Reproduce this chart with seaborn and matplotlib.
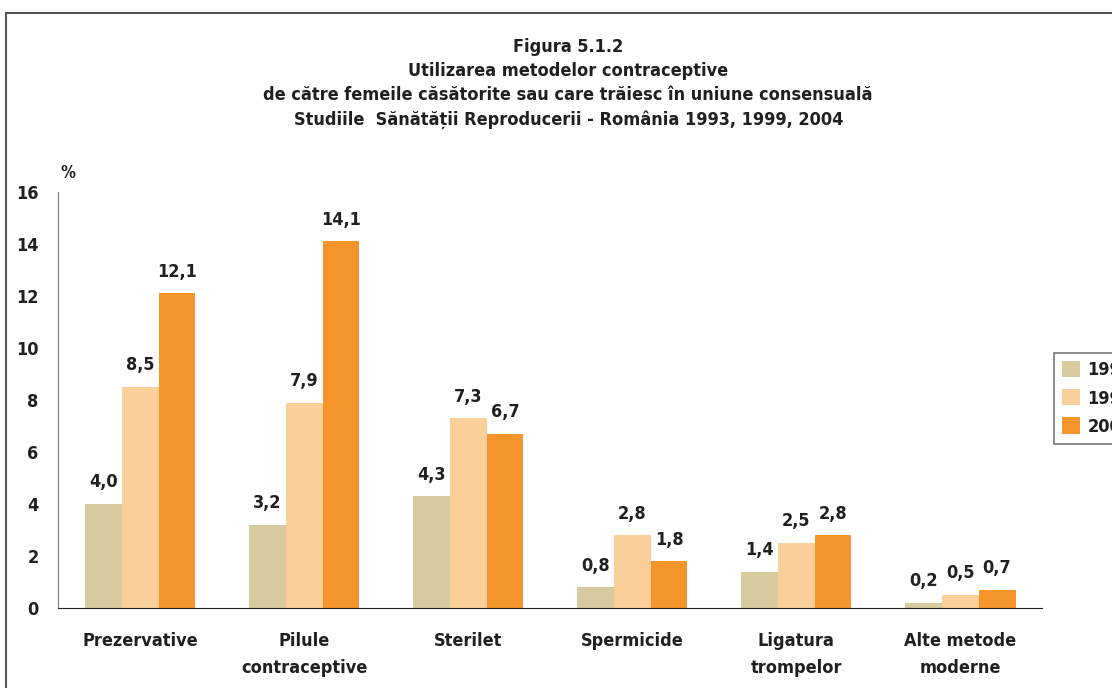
"""
Figura 5.1.2 - contraceptive method use, grouped bar chart.
"""

import matplotlib
matplotlib.use("Agg")
import matplotlib.pyplot as plt
import matplotlib.patches as mpatches
import pandas as pd
import seaborn as sns

categories = [
    "Prezervative",
    "Pilule\ncontraceptive",
    "Sterilet",
    "Spermicide",
    "Ligatura\ntrompelor",
    "Alte metode\nmoderne",
]
years = ["1993", "1999", "2004"]
values_1993 = [4.0, 3.2, 4.3, 0.8, 1.4, 0.2]
values_1999 = [8.5, 7.9, 7.3, 2.8, 2.5, 0.5]
values_2004 = [12.1, 14.1, 6.7, 1.8, 2.8, 0.7]
y_ticks = [0, 2, 4, 6, 8, 10, 12, 14, 16]

colors = ["#D6CA9E", "#FACF9A", "#F5942B"]
TEXT = "#231F20"


def main():
    sns.set_style("white")
    plt.rcParams["font.family"] = ["DejaVu Sans"]
    plt.rcParams["font.stretch"] = "condensed"
    plt.rcParams["font.weight"] = "bold"

    df = pd.DataFrame({
        "cat": categories * 3,
        "year": [y for y in years for _ in categories],
        "val": values_1993 + values_1999 + values_2004,
    })

    fig = plt.figure(figsize=(11.12, 6.88), dpi=100)
    ax = fig.add_axes([0.0522, 0.1163, 0.885, 0.6047])

    sns.barplot(data=df, x="cat", y="val", hue="year", palette=colors,
                width=0.675, gap=0, ax=ax, saturation=1, legend=True,
                linewidth=0)

    for cont in ax.containers:
        labels = [f"{b.get_height():.1f}".replace(".", ",") for b in cont]
        ax.bar_label(cont, labels=labels, padding=9, fontsize=13,
                     fontweight="bold", color=TEXT)

    ax.set_ylim(0, 16)
    ax.set_xlim(-0.5, len(categories) - 0.5)
    ax.set_yticks(y_ticks)
    ax.set_yticklabels([str(t) for t in y_ticks], fontsize=13,
                       fontweight="bold", color=TEXT)
    ax.set_xticks(range(len(categories)))
    ax.set_xticklabels(categories, fontsize=13, fontweight="bold",
                       color=TEXT, linespacing=1.7)
    ax.tick_params(axis="x", length=0, pad=17)
    ax.tick_params(axis="y", length=6, width=1, color="#808080",
                   direction="out", pad=8)
    # small separators between the groups
    ax.set_xticks([i + 0.5 for i in range(len(categories))], minor=True)
    ax.tick_params(axis="x", which="minor", length=6, width=1,
                   color=TEXT, direction="out")
    ax.set_xlabel("")
    ax.set_ylabel("")

    for s in ["top", "right"]:
        ax.spines[s].set_visible(False)
    ax.spines["left"].set_color("#808080")
    ax.spines["bottom"].set_color(TEXT)

    fig.text(0.054, 0.742, "%", fontsize=12, fontweight="bold", color=TEXT)

    title = ("Figura 5.1.2\n"
             "Utilizarea metodelor contraceptive\n"
             "de către femeile căsătorite sau care trăiesc în uniune consensuală\n"
             "Studiile  Sănătății Reproducerii - România 1993, 1999, 2004")
    fig.text(0.511, 0.945, title, ha="center", va="top", fontsize=13,
             fontweight="bold", color=TEXT, linespacing=1.45)

    leg = ax.legend(title=None, loc="upper left",
                    bbox_to_anchor=(0.948, 0.487),
                    bbox_transform=fig.transFigure, borderaxespad=0,
                    frameon=True, fancybox=False, fontsize=13,
                    handlelength=1.0, handleheight=1.0, borderpad=0.45,
                    labelspacing=0.55, handletextpad=0.4)
    leg.get_frame().set_edgecolor("#555555")
    leg.get_frame().set_linewidth(1.2)
    for t in leg.get_texts():
        t.set_color(TEXT)
        t.set_fontweight("bold")

    border = mpatches.Rectangle((0.005, -0.1), 1.2, 1.081,
                                transform=fig.transFigure, fill=False,
                                edgecolor="#555555", linewidth=1.5)
    fig.patches.append(border)

    fig.savefig("out.png", dpi=100)


if __name__ == "__main__":
    main()
